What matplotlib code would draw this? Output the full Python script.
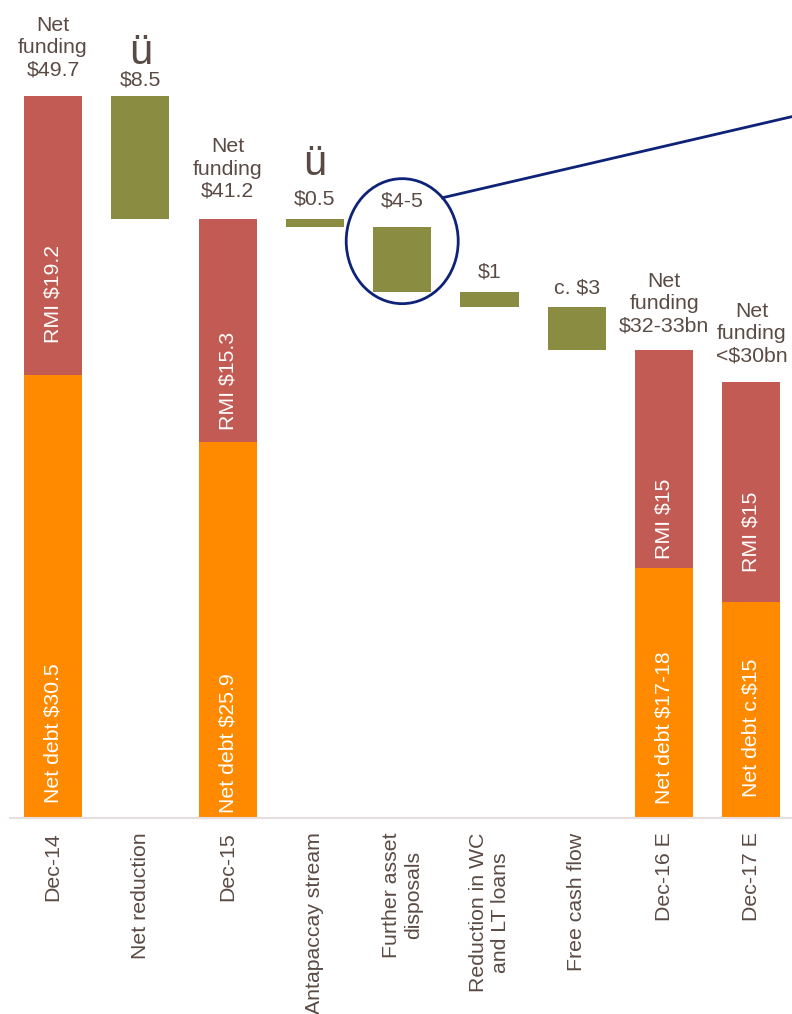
import numpy as np
import matplotlib
matplotlib.use("Agg")
import matplotlib.pyplot as plt
from matplotlib.patches import Ellipse

plt.rcParams['font.family'] = ['Liberation Sans', 'DejaVu Sans']

# ---------------- data ----------------
categories = ["Dec-14", "Net reduction", "Dec-15", "Antapaccay stream",
              "Further asset\ndisposals", "Reduction in WC\nand LT loans",
              "Free cash flow", "Dec-16 E", "Dec-17 E"]
kinds = ["total", "step", "total", "step", "step", "step", "step", "total", "total"]

net_debt = [30.5, 25.9, 17.2, 14.9]      # orange parts of total bars
rmi = [19.2, 15.3, 15.0, 15.1]           # red parts of total bars
reductions = [8.5, 0.5, 4.5, 1.0, 3.0]   # green waterfall steps

top_labels = ["Net\nfunding\n$49.7", "$8.5", "Net\nfunding\n$41.2", "$0.5", "$4-5",
              "$1", "c. $3", "Net\nfunding\n$32-33bn", "Net\nfunding\n<$30bn"]
rmi_labels = ["RMI $19.2", "RMI $15.3", "RMI $15", "RMI $15"]
nd_labels = ["Net debt $30.5", "Net debt $25.9", "Net debt $17-18", "Net debt c.$15"]
check_idx = [1, 3]

# ---------------- style ----------------
RED = "#C25B53"
ORANGE = "#FF8A00"
GREEN = "#8A8C42"
TXT = "#5A4A44"
NAVY = "#0E2277"
FS = 15.3

label_gap_px = [21, 11, 23, 15, 21, 15, 14, 19, 21]   # bar top -> label baseline
check_gap_px = {1: 32, 3: 44}
rmi_label_y = [36.1, 30.1, 20.6, 19.7]
nd_label_y = [5.85, 5.16, 6.2, 6.2]

W, H, DPI = 792, 1014, 100
fig = plt.figure(figsize=(W / DPI, H / DPI), dpi=DPI)
left_px, base_px = 10, 818
ax = fig.add_axes([left_px / W, (H - base_px) / H, 1 - left_px / W, base_px / H])

px_per_unit = 14.53
spacing_px = 87.3
x0_px = 53
ax.set_ylim(0, base_px / px_per_unit)
ax.set_xlim((left_px - x0_px) / spacing_px, (W - x0_px) / spacing_px)

x = np.arange(len(categories))
bw = 58 / spacing_px

level = 0.0
ti = 0
si = 0
tops = []
step_info = {}
for i, k in enumerate(kinds):
    if k == "total":
        nd, r = net_debt[ti], rmi[ti]
        ax.bar(x[i], nd, width=bw, color=ORANGE, edgecolor="none")
        ax.bar(x[i], r, bottom=nd, width=bw, color=RED, edgecolor="none")
        ax.text(x[i], rmi_label_y[ti], rmi_labels[ti], rotation=90, ha="center",
                va="center", color="white", fontsize=FS)
        ax.text(x[i], nd_label_y[ti], nd_labels[ti], rotation=90, ha="center",
                va="center", color="white", fontsize=FS)
        level = nd + r
        tops.append(level)
        ti += 1
    else:
        r = reductions[si]
        ax.bar(x[i], r, bottom=level - r, width=bw, color=GREEN, edgecolor="none")
        step_info[i] = (level - r, level)
        tops.append(level)
        level -= r
        si += 1

descent_px = 0.21 * FS * DPI / 72
for i, lab in enumerate(top_labels):
    ax.annotate(lab, (x[i], tops[i]), xytext=(0, label_gap_px[i] - descent_px),
                textcoords="offset pixels", ha="center", va="bottom",
                color=TXT, fontsize=FS, linespacing=1.22)

for i in check_idx:
    ax.annotate("ü", (x[i], tops[i]), xytext=(0, check_gap_px[i]),
                textcoords="offset pixels", ha="center", va="baseline",
                color=TXT, fontsize=30)

# highlight circle on "Further asset disposals"
bot, top = step_info[4]
cx, cy = x[4], (bot + top) / 2 + 1.25
ew, eh = 112 / spacing_px, 125 / px_per_unit
ax.add_patch(Ellipse((cx, cy), ew, eh, fill=False, edgecolor=NAVY, linewidth=2,
                     clip_on=False, zorder=5))
th = np.deg2rad(44)
sx, sy = cx + ew / 2 * np.cos(th), cy + eh / 2 * np.sin(th)
slope = (81 / px_per_unit) / (349 / spacing_px)
ex = sx + 6
ax.plot([sx, ex], [sy, sy + slope * (ex - sx)], color=NAVY, linewidth=2,
        clip_on=False, zorder=5)

# axes styling
for s in ["top", "right", "left"]:
    ax.spines[s].set_visible(False)
ax.spines["bottom"].set_color("#E6DEDE")
ax.spines["bottom"].set_linewidth(1.5)
ax.set_yticks([])
ax.set_xticks(x)
ax.set_xticklabels(categories, rotation=90, ha="center", va="top",
                   fontsize=FS, color=TXT, multialignment="center")
ax.tick_params(axis="x", length=0, pad=10.5)
ax.patch.set_alpha(0)

fig.savefig("out.png", dpi=DPI)
